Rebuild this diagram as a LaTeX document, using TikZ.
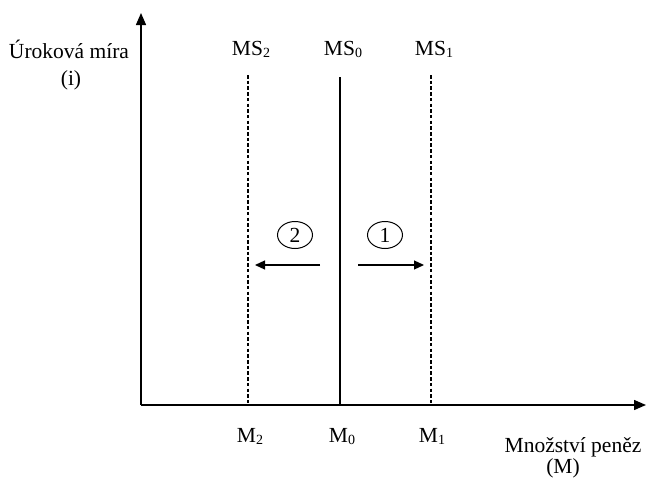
\documentclass[tikz,border=0pt]{standalone}
\usepackage{fontspec}
\setmainfont{Liberation Serif}
\usetikzlibrary{arrows.meta,shapes.geometric}
\newcommand\lowsub[1]{\raisebox{-0.12em}{\fontsize{14}{14}\selectfont #1}}
\begin{document}
\begin{tikzpicture}[x=1pt,y=-1pt,
  axis/.style={line width=1.4pt,-{Triangle[length=12pt,width=10pt]}},
  lbl/.style={inner sep=0pt,anchor=base,font=\fontsize{21.5}{25}\selectfont},
  msline/.style={line width=1.1pt,dash pattern=on 3.5pt off 2.2pt},
  solidline/.style={line width=1.5pt},
  shift arrow/.style={line width=1.2pt,-{Triangle[length=10pt,width=9pt]}},
  num/.style={ellipse,draw,line width=1pt,minimum width=35pt,minimum height=27pt,inner sep=0pt,font=\fontsize{21.5}{25}\selectfont}]
\useasboundingbox (0,0) rectangle (646,479);
\coordinate (O) at (141,405);
\coordinate (ytop) at (141,13);
\coordinate (xend) at (646,405);
\draw[axis] (O) -- (ytop);
\draw[axis] (O) -- (xend);
% vertical lines
\coordinate (m2b) at (248,405); \coordinate (m2t) at (248,75);
\coordinate (m0b) at (340,405); \coordinate (m0t) at (340,77);
\coordinate (m1b) at (431,405); \coordinate (m1t) at (431,75);
\draw[msline] (m2t) -- (m2b);
\draw[solidline] (m0t) -- (m0b);
\draw[msline] (m1t) -- (m1b);
% labels
\node[lbl] (ms2) at (251,55) {MS\lowsub{2}};
\node[lbl] (ms0) at (343,55) {MS\lowsub{0}};
\node[lbl] (ms1) at (434,55) {MS\lowsub{1}};
\node[lbl] (mm2) at (250,442) {M\lowsub{2}};
\node[lbl] (mm0) at (342,442) {M\lowsub{0}};
\node[lbl] (mm1) at (432,442) {M\lowsub{1}};
\node[lbl] (ylab1) at (69,58) {Úroková míra};
\node[lbl] (ylab2) at (71,85) {(i)};
\node[lbl] (xlab1) at (573,452) {Množství peněz};
\node[lbl] (xlab2) at (563,473) {(M)};
% shifts
\node[num] (c2) at (295,235) {2};
\node[num] (c1) at (385,235) {1};
\coordinate (a2s) at (320,265); \coordinate (a2e) at (255,265);
\coordinate (a1s) at (358,265); \coordinate (a1e) at (424,265);
\draw[shift arrow] (a2s) -- (a2e);
\draw[shift arrow] (a1s) -- (a1e);
\end{tikzpicture}
\end{document}
